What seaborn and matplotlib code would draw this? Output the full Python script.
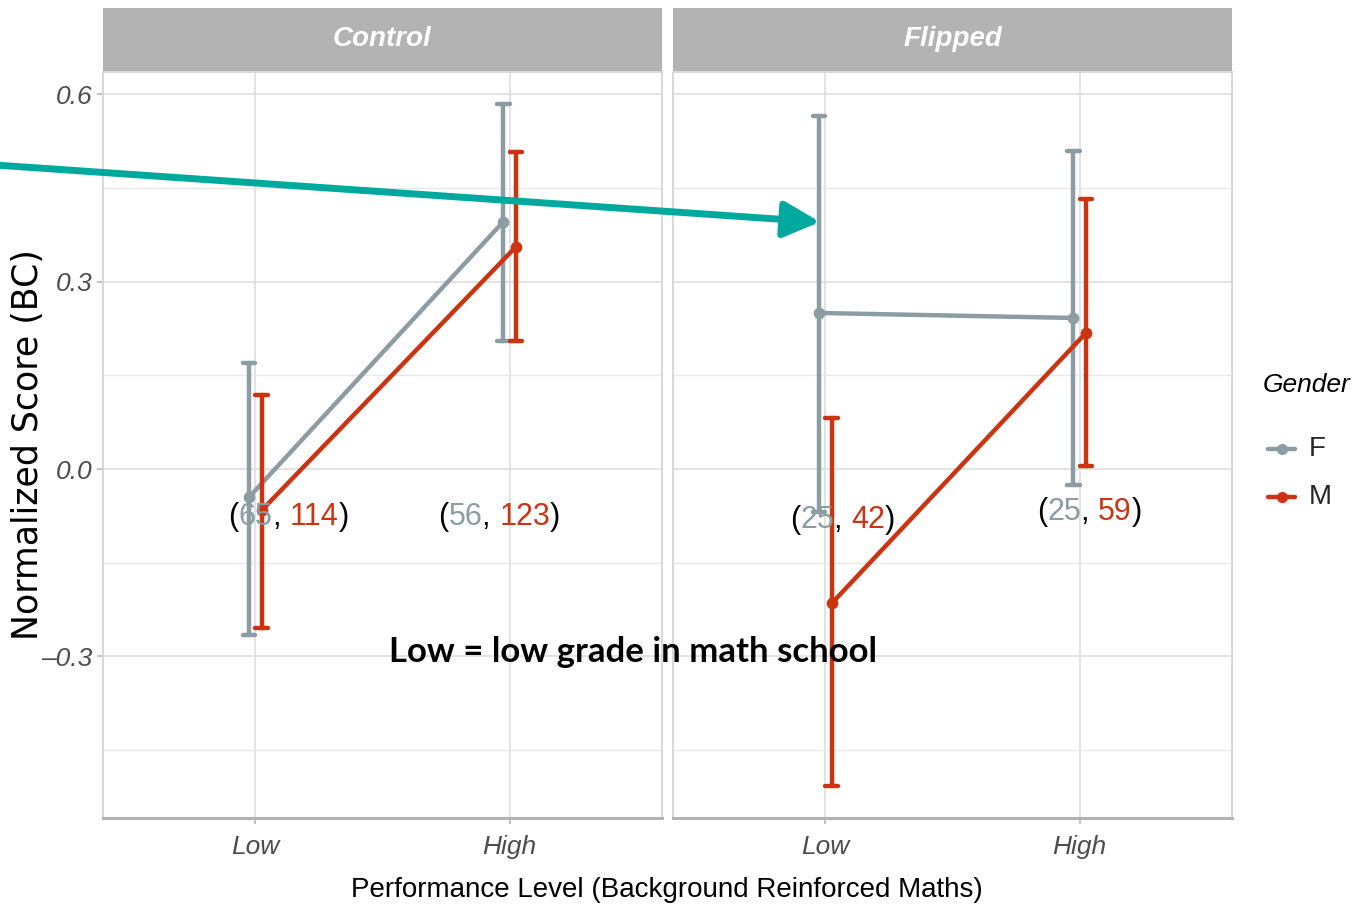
import numpy as np
import pandas as pd
import matplotlib
matplotlib.use("Agg")
import matplotlib.pyplot as plt
import seaborn as sns
from matplotlib.offsetbox import TextArea, HPacker, AnnotationBbox

# ---------------- data ----------------
panels = ["Control", "Flipped"]
levels = ["Low", "High"]
genders = ["F", "M"]
# mean, lower, upper for each (panel, gender) over levels Low, High
control_F_mean = [-0.045, 0.396]
control_F_lo = [-0.266, 0.205]
control_F_hi = [0.170, 0.585]
control_M_mean = [-0.066, 0.356]
control_M_lo = [-0.255, 0.205]
control_M_hi = [0.118, 0.508]
flipped_F_mean = [0.250, 0.242]
flipped_F_lo = [-0.069, -0.026]
flipped_F_hi = [0.565, 0.509]
flipped_M_mean = [-0.215, 0.218]
flipped_M_lo = [-0.508, 0.005]
flipped_M_hi = [0.082, 0.432]
# group sizes (F, M) per panel and level
control_counts = [("65", "114"), ("56", "123")]
flipped_counts = [("25", "42"), ("25", "59")]
yticks = [-0.3, 0.0, 0.3, 0.6]
ytick_labels = ["\u20130.3", "0.0", "0.3", "0.6"]

series = {
    ("Control", "F"): (control_F_mean, control_F_lo, control_F_hi),
    ("Control", "M"): (control_M_mean, control_M_lo, control_M_hi),
    ("Flipped", "F"): (flipped_F_mean, flipped_F_lo, flipped_F_hi),
    ("Flipped", "M"): (flipped_M_mean, flipped_M_lo, flipped_M_hi),
}
rows = []
for (p, g), (m, lo, hi) in series.items():
    for i, lv in enumerate(levels):
        for v in (lo[i], m[i], hi[i]):
            rows.append(dict(Group=p, Level=lv, Gender=g, Score=v))
df = pd.DataFrame(rows)

GRAY = "#8B9DA3"
RED = "#CC3311"
TEAL = "#00A99D"
palette = {"F": GRAY, "M": RED}

sns.set_theme(style="white")
NARROW = ["Liberation Sans", "DejaVu Sans"]
plt.rcParams["font.family"] = ["Liberation Sans", "DejaVu Sans"]

W, H = 1361, 913
fig = plt.figure(figsize=(W / 100, H / 100), dpi=100)

def fx(px):
    return px / W

def fy(py):
    return 1 - py / H

panel_x = [103, 673]
panel_w = 559
top, bottom = 72, 818
ylim = (-0.559, 0.636)

axes = []
for k, p in enumerate(panels):
    ax = fig.add_axes([fx(panel_x[k]), fy(bottom), fx(panel_w), (bottom - top) / H])
    axes.append(ax)
    sub = df[df.Group == p]
    sns.pointplot(data=sub, x="Level", y="Score", hue="Gender", order=levels,
                  hue_order=genders, palette=palette, estimator=np.median,
                  errorbar=lambda v: (v.min(), v.max()), dodge=0.05,
                  capsize=0.05, markers="o", markersize=6, linewidth=3.2,
                  err_kws={"linewidth": 3.2}, ax=ax, legend=False)
    ax.set_xlim(-0.6, 1.6)
    ax.set_ylim(*ylim)
    ax.set_yticks(yticks)
    ax.set_yticks([-0.45, -0.15, 0.15, 0.45], minor=True)
    ax.grid(True, which="major", color="#DEDEDE", linewidth=1.2)
    ax.grid(True, which="minor", color="#E8E8E8", linewidth=1.0)
    ax.set_axisbelow(True)
    ax.set_xlabel("")
    ax.set_ylabel("")
    for s in ["left", "right", "top"]:
        ax.spines[s].set_color("#D5D5D5")
        ax.spines[s].set_linewidth(1.3)
    ax.spines["bottom"].set_color("#B3B3B3")
    ax.spines["bottom"].set_linewidth(2.2)
    ax.tick_params(axis="x", length=4, color="#BBBBBB", labelsize=19, labelcolor="#4D4D4D", pad=8, bottom=True)
    ax.tick_params(axis="y", length=4, color="#BBBBBB", labelsize=19, labelcolor="#4D4D4D", left=True, which="major")
    ax.tick_params(axis="y", which="minor", length=0)
    for lab in ax.get_xticklabels():
        lab.set_family(NARROW)
        lab.set_style("italic")
    if k == 0:
        ax.set_yticklabels(ytick_labels)
        for lab in ax.get_yticklabels():
            lab.set_family(NARROW)
            lab.set_style("italic")
    else:
        ax.set_yticklabels([])
        ax.tick_params(axis="y", left=False)

    # strip
    sax = fig.add_axes([fx(panel_x[k]), fy(top - 1), fx(panel_w), (top - 9) / H])
    sax.set_facecolor("#B3B3B3")
    sax.set_xticks([])
    sax.set_yticks([])
    for s in sax.spines.values():
        s.set_visible(False)
    sax.text(0.5, 0.5, p, color="white", fontsize=20, fontstyle="italic",
             fontweight="bold", family=NARROW, ha="center", va="center",
             transform=sax.transAxes)

# count annotations
count_pos = {
    "Control": [(0.13, -0.077), (0.96, -0.077)],
    "Flipped": [(0.067, -0.082), (1.04, -0.069)],
}
counts = {"Control": control_counts, "Flipped": flipped_counts}
for k, p in enumerate(panels):
    for (xv, yv), (nf, nm) in zip(count_pos[p], counts[p]):
        parts = [("(", "black"), (nf, GRAY), (", ", "black"), (nm, RED), (")", "black")]
        boxes = [TextArea(t, textprops=dict(color=c, fontsize=22, family=["Liberation Sans", "DejaVu Sans"])) for t, c in parts]
        pack = HPacker(children=boxes, pad=0, sep=0)
        ab = AnnotationBbox(pack, (xv, yv), xycoords="data", frameon=False,
                            box_alignment=(0.5, 0.5), pad=0, annotation_clip=False)
        axes[k].add_artist(ab)

# axis labels
fig.text(fx(667), fy(890), "Performance Level (Background Reinforced Maths)",
         fontsize=20, family=NARROW, ha="center", va="center", color="black")
fig.text(fx(28), fy(445), "Normalized Score (BC)", rotation=90, fontsize=25,
         family=["DejaVu Sans"], ha="center", va="center", color="black")

# note
fig.text(fx(633), fy(652), "Low = low grade in math school", fontsize=25,
         fontweight="bold", family=["Lato", "DejaVu Sans"], ha="center", va="center", color="black")

# legend
fig.text(fx(1263), fy(385), "Gender", fontsize=19, fontstyle="italic",
         family=NARROW, ha="left", va="center", color="black")
for yy, g in [(449, "F"), (497, "M")]:
    fig.add_artist(plt.Line2D([fx(1268), fx(1295)], [fy(yy), fy(yy)], color=palette[g],
                              linewidth=3.2, transform=fig.transFigure))
    fig.add_artist(plt.Line2D([fx(1281.5)], [fy(yy)], color=palette[g], marker="o",
                              markersize=7, linestyle="none", transform=fig.transFigure))
    fig.text(fx(1309), fy(yy), g, fontsize=20, family=NARROW, ha="left", va="center")

# teal arrow
fig.add_artist(matplotlib.patches.FancyArrowPatch(
    (fx(-5), fy(165)), (fx(820), fy(222)), transform=fig.transFigure,
    arrowstyle="-|>,head_length=22,head_width=11", mutation_scale=1,
    color=TEAL, linewidth=5.0, shrinkA=0, shrinkB=0))

fig.savefig("out.png", dpi=100)
